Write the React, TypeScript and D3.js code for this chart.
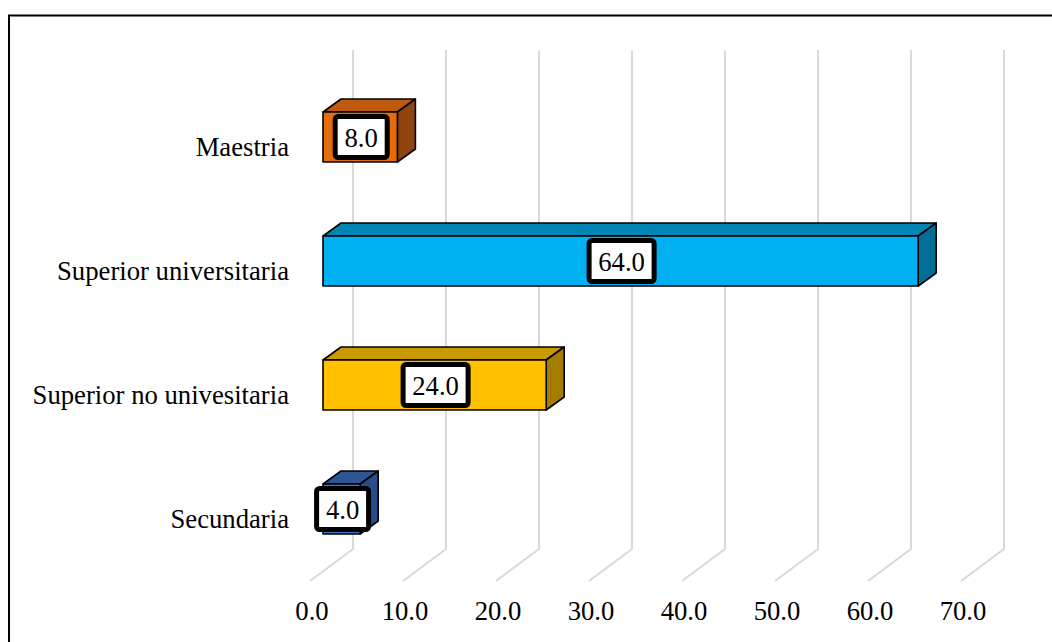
import React from "react";
import * as d3 from "d3";

// Nivel educativo (porcentaje)
const categories = [
  "Maestria",
  "Superior universitaria",
  "Superior no univesitaria",
  "Secundaria",
];
const values = [8.0, 64.0, 24.0, 4.0];
const ticks = [0, 10, 20, 30, 40, 50, 60, 70];

const frontColors = ["#E46C0A", "#00B0F0", "#FFC000", "#4472C4"];
const topColors = ["#C05A0E", "#0085B5", "#C99900", "#2F5597"];
const sideColors = ["#8E4510", "#006F98", "#A47C00", "#294D8A"];

const W = 1052;
const H = 642;

// oblique depth offsets
const barDX = 18;
const barDY = -13;
const wallDX = 30; // back wall relative to the bar front plane
const floorDX = -13; // floor front edge relative to the bar front plane
const wallBottom = 549;
const floorFront = 581;
const wallTop = 50;

const FONT = "'Liberation Serif', 'Times New Roman', serif";
const FS = 26.7;

export default function App() {
  const x = d3.scaleLinear().domain([0, 70]).range([323, 974]);
  const y = d3
    .scaleBand<string>()
    .domain(categories)
    .range([75, 571])
    .paddingInner(0.597)
    .paddingOuter(0.2985);
  const bh = y.bandwidth();

  return (
    <svg
      width={W}
      height={H}
      style={{ position: "absolute", left: 0, top: 0, background: "#fff" }}
      fontFamily={FONT}
    >
      <rect x={0} y={0} width={W} height={H} fill="#fff" />

      {/* gridlines: back wall + floor */}
      {ticks.map((t) => {
        const bx = x(t) + wallDX;
        const fx = x(t) + floorDX;
        return (
          <polyline
            key={t}
            points={`${bx},${wallTop} ${bx},${wallBottom} ${fx},${floorFront}`}
            fill="none"
            stroke="#D9D9D9"
            strokeWidth={2}
          />
        );
      })}

      {/* tick labels */}
      {ticks.map((t) => (
        <text
          key={t}
          x={x(t) + floorDX + 2}
          y={620}
          textAnchor="middle"
          fontSize={FS}
          fill="#000"
        >
          {t.toFixed(1)}
        </text>
      ))}

      {/* category labels */}
      {categories.map((c) => (
        <text
          key={c}
          x={289}
          y={(y(c) as number) + bh / 2 + 19}
          textAnchor="end"
          fontSize={FS}
          fill="#000"
        >
          {c}
        </text>
      ))}

      {/* 3D bars */}
      {categories.map((c, i) => {
        const x0 = x(0);
        const x1 = x(values[i]);
        const yt = y(c) as number;
        const yb = yt + bh;
        const top = `${x0},${yt} ${x0 + barDX},${yt + barDY} ${x1 + barDX},${yt + barDY} ${x1},${yt}`;
        const side = `${x1},${yt} ${x1 + barDX},${yt + barDY} ${x1 + barDX},${yb + barDY} ${x1},${yb}`;
        return (
          <g key={c} stroke="#000" strokeWidth={1.6} strokeLinejoin="round">
            <polygon points={top} fill={topColors[i]} />
            <polygon points={side} fill={sideColors[i]} />
            <rect x={x0} y={yt} width={x1 - x0} height={bh} fill={frontColors[i]} />
          </g>
        );
      })}

      {/* value labels */}
      {categories.map((c, i) => {
        const label = values[i].toFixed(1);
        const cx = (x(0) + x(values[i])) / 2 + 1;
        const cy = (y(c) as number) + bh / 2;
        const tw = label.length === 4 ? 47 : 34;
        const bw = tw + 18;
        const bhh = 41;
        return (
          <g key={c}>
            <rect
              x={cx - bw / 2}
              y={cy - bhh / 2}
              width={bw}
              height={bhh}
              rx={3}
              fill="#fff"
              stroke="#000"
              strokeWidth={5}
            />
            <text x={cx} y={cy + 10} textAnchor="middle" fontSize={FS} fill="#000">
              {label}
            </text>
          </g>
        );
      })}

      {/* chart frame */}
      <rect x={9} y={15.5} width={1060} height={660} fill="none" stroke="#000" strokeWidth={2} />
    </svg>
  );
}
